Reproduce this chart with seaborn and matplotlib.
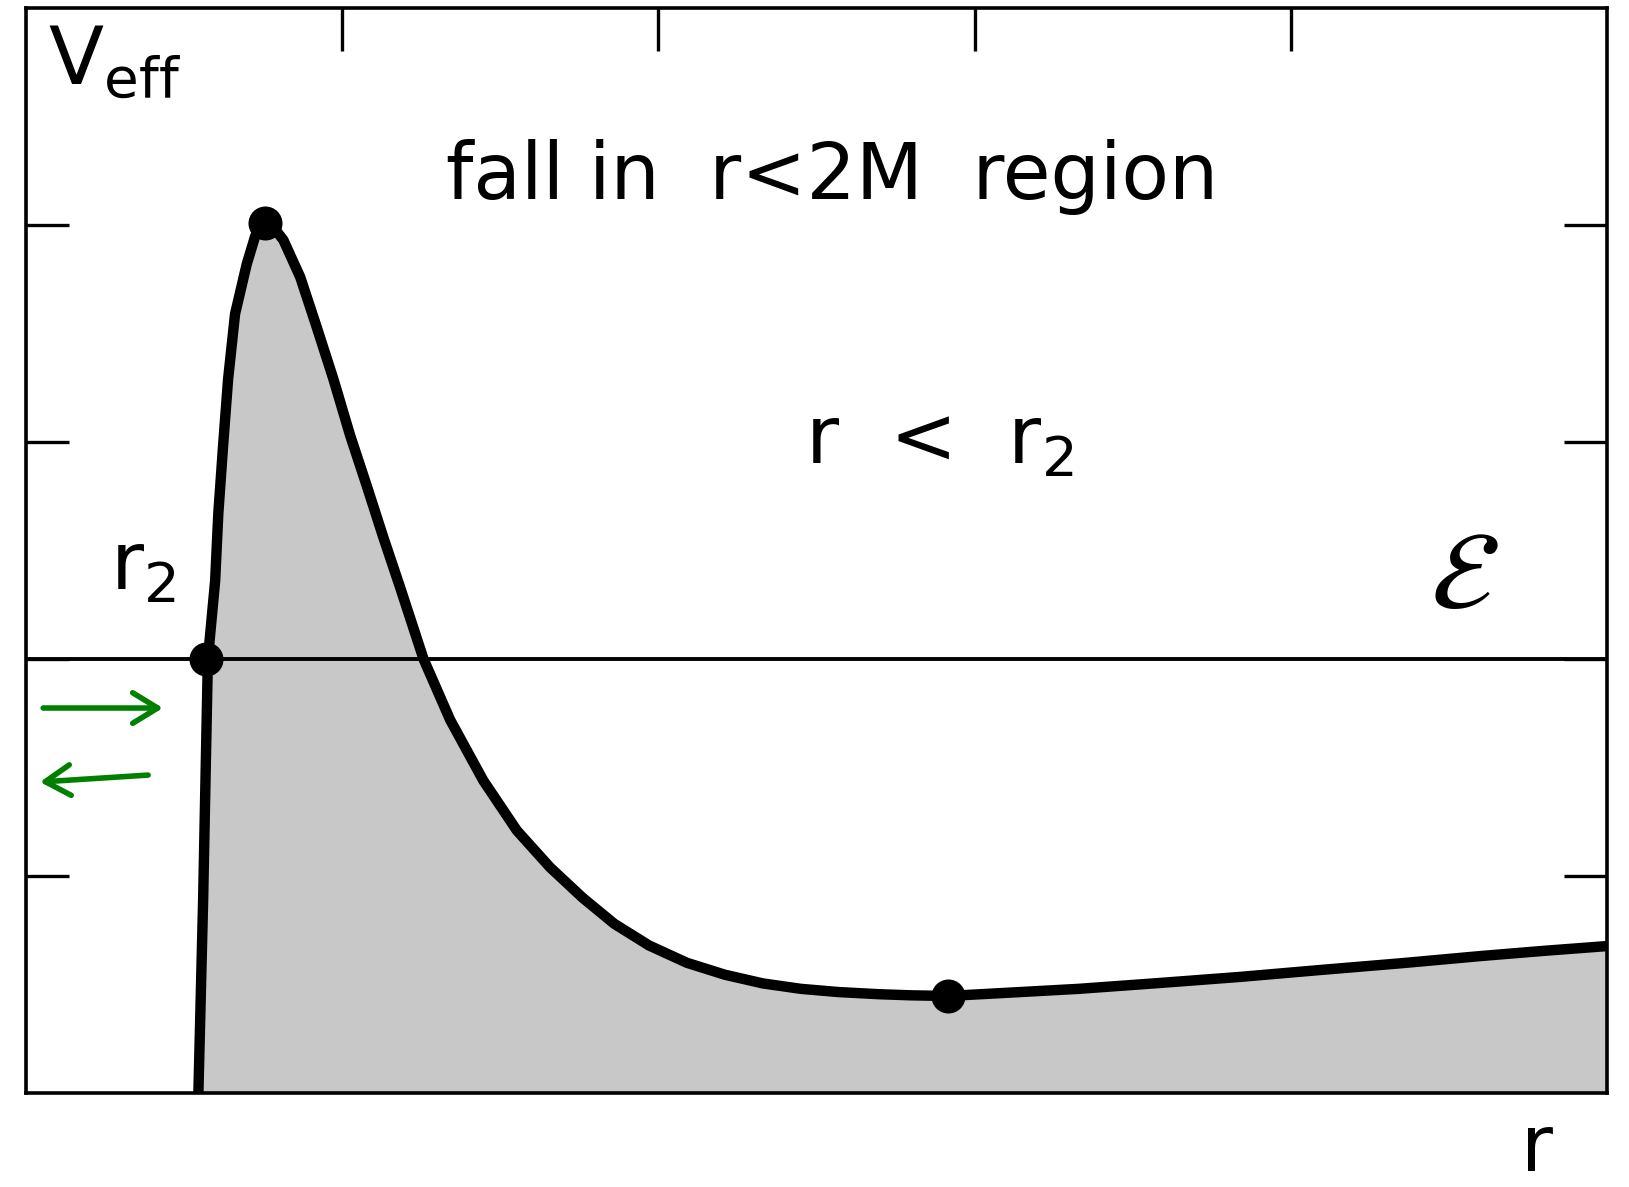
import numpy as np
import pandas as pd
import seaborn as sns
import matplotlib.pyplot as plt

# effective potential curve
r_vals = [0.545, 0.56, 0.575, 0.598, 0.608, 0.623, 0.639, 0.661, 0.698, 0.725,
          0.756, 0.785, 0.814, 0.867, 0.919, 0.972, 1.025, 1.077, 1.130, 1.183,
          1.257, 1.341, 1.446, 1.552, 1.657, 1.76, 1.86, 1.97, 2.09, 2.21,
          2.33, 2.45, 2.57, 2.70, 2.80, 2.916, 3.08, 3.33, 3.586, 3.84,
          4.095, 4.35, 4.60, 4.80, 5.0]
v_vals = [0.0, 0.89, 2.0, 2.36, 2.67, 2.98, 3.29, 3.59, 3.82, 3.95,
          4.01, 3.985, 3.93, 3.76, 3.53, 3.29, 3.03, 2.80, 2.56, 2.33,
          2.0, 1.72, 1.44, 1.21, 1.04, 0.90, 0.78, 0.68, 0.60, 0.545,
          0.505, 0.48, 0.465, 0.455, 0.45, 0.447, 0.46, 0.48, 0.507, 0.535,
          0.567, 0.598, 0.631, 0.655, 0.677]

# marked points: r2, maximum, minimum
mark_r = [0.57, 0.756, 2.916]
mark_v = [2.0, 4.01, 0.447]

energy = 2.0
x_ticks = [1, 2, 3, 4]
y_ticks = [1, 2, 3, 4]

curve = pd.DataFrame({'r': r_vals, 'V': v_vals})
marks = pd.DataFrame({'r': mark_r, 'V': mark_v})

sns.set_style('white')
plt.rcParams['font.family'] = ['DejaVu Sans']
plt.rcParams['text.color'] = 'black'

fig = plt.figure(figsize=(16.29, 11.87), dpi=100)
ax = fig.add_axes([0.016, 0.0792, 0.9705, 0.9141])

ax.fill_between(curve['r'], 0, curve['V'], color='#c8c8c8', zorder=1)
sns.lineplot(data=curve, x='r', y='V', color='black', linewidth=7.5, sort=False,
             estimator=None, ax=ax, zorder=3, solid_joinstyle='round',
             solid_capstyle='butt')
ax.axhline(energy, color='black', linewidth=2.8, zorder=2)
sns.scatterplot(data=marks, x='r', y='V', color='black', s=600, edgecolor='black',
                linewidth=0, ax=ax, zorder=4)

ax.set_xlim(0, 5)
ax.set_ylim(0, 5)
ax.set_xticks(x_ticks)
ax.set_yticks(y_ticks)
ax.tick_params(direction='in', length=31, width=2.4, color='black', top=True,
               right=True, bottom=True, left=True, labelbottom=False, labelleft=False)
for s in ax.spines.values():
    s.set_linewidth(2.6)
    s.set_color('black')
ax.set_xlabel('')
ax.set_ylabel('')

# labels
ax.text(0.07, 4.93, r'V$_{\rm eff}$', fontsize=58, ha='left', va='top')
ax.text(2.55, 4.22, 'fall in  r<2M  region', fontsize=56, ha='center', va='center')
ax.text(2.89, 3.0, r'r  <  r$_2$', fontsize=58, ha='center', va='center')
ax.text(0.37, 2.42, r'r$_2$', fontsize=58, ha='center', va='center')
ax.text(4.55, 2.37, r'$\mathcal{E}$', fontsize=80, ha='center', va='center')
ax.text(4.78, -0.36, 'r', fontsize=56, ha='center', va='baseline', clip_on=False)

# green arrows: bounce at r2
head = '->,head_length=1.8,head_width=1.1'
ax.annotate('', xy=(0.433, 1.774), xytext=(0.054, 1.774),
            arrowprops=dict(arrowstyle=head, color='green', lw=4,
                            shrinkA=0, shrinkB=0))
ax.annotate('', xy=(0.044, 1.433), xytext=(0.386, 1.465),
            arrowprops=dict(arrowstyle=head, color='green', lw=4,
                            shrinkA=0, shrinkB=0))

fig.savefig('out.png', dpi=100)
